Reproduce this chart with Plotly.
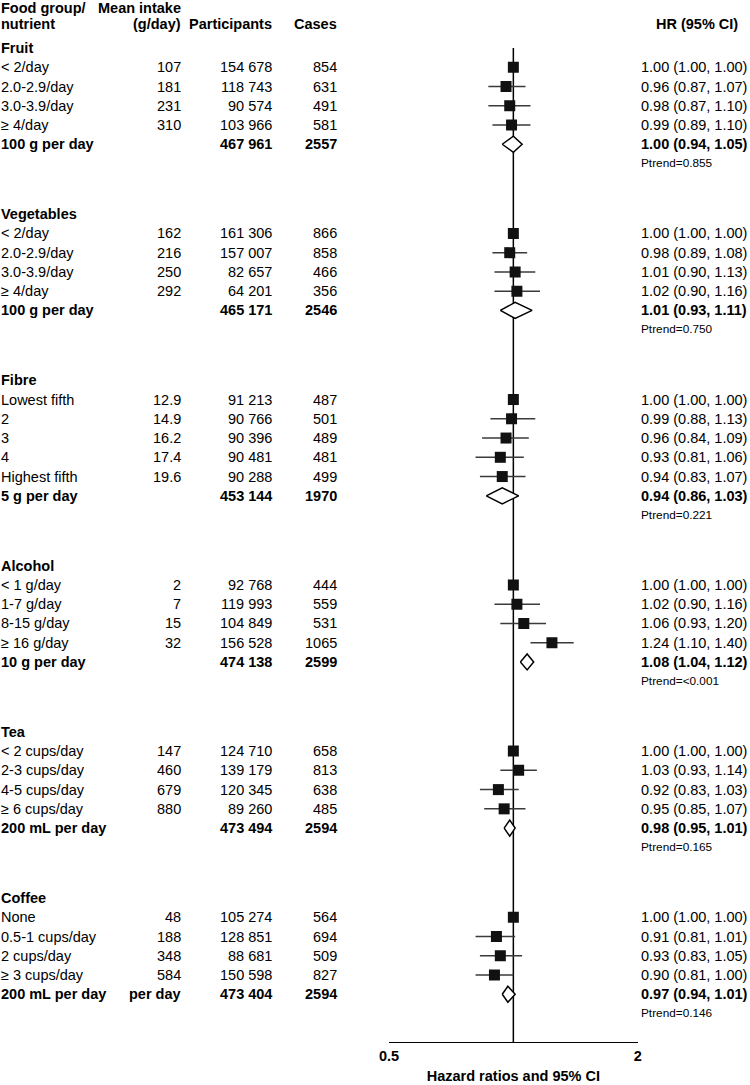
import plotly.graph_objects as go

# ---------------- data ----------------
group_names = ["Fruit", "Vegetables", "Fibre", "Alcohol", "Tea", "Coffee"]

fruit_labels = ["< 2/day", "2.0-2.9/day", "3.0-3.9/day", "≥ 4/day"]
fruit_intake = ["107", "181", "231", "310"]
fruit_participants = ["154 678", "118 743", "90 574", "103 966"]
fruit_cases = ["854", "631", "491", "581"]
fruit_hr = [1.00, 0.96, 0.98, 0.99]
fruit_lo = [1.00, 0.87, 0.87, 0.89]
fruit_hi = [1.00, 1.07, 1.10, 1.10]

veg_labels = ["< 2/day", "2.0-2.9/day", "3.0-3.9/day", "≥ 4/day"]
veg_intake = ["162", "216", "250", "292"]
veg_participants = ["161 306", "157 007", "82 657", "64 201"]
veg_cases = ["866", "858", "466", "356"]
veg_hr = [1.00, 0.98, 1.01, 1.02]
veg_lo = [1.00, 0.89, 0.90, 0.90]
veg_hi = [1.00, 1.08, 1.13, 1.16]

fibre_labels = ["Lowest fifth", "2", "3", "4", "Highest fifth"]
fibre_intake = ["12.9", "14.9", "16.2", "17.4", "19.6"]
fibre_participants = ["91 213", "90 766", "90 396", "90 481", "90 288"]
fibre_cases = ["487", "501", "489", "481", "499"]
fibre_hr = [1.00, 0.99, 0.96, 0.93, 0.94]
fibre_lo = [1.00, 0.88, 0.84, 0.81, 0.83]
fibre_hi = [1.00, 1.13, 1.09, 1.06, 1.07]

alcohol_labels = ["< 1 g/day", "1-7 g/day", "8-15 g/day", "≥ 16 g/day"]
alcohol_intake = ["2", "7", "15", "32"]
alcohol_participants = ["92 768", "119 993", "104 849", "156 528"]
alcohol_cases = ["444", "559", "531", "1065"]
alcohol_hr = [1.00, 1.02, 1.06, 1.24]
alcohol_lo = [1.00, 0.90, 0.93, 1.10]
alcohol_hi = [1.00, 1.16, 1.20, 1.40]

tea_labels = ["< 2 cups/day", "2-3 cups/day", "4-5 cups/day", "≥ 6 cups/day"]
tea_intake = ["147", "460", "679", "880"]
tea_participants = ["124 710", "139 179", "120 345", "89 260"]
tea_cases = ["658", "813", "638", "485"]
tea_hr = [1.00, 1.03, 0.92, 0.95]
tea_lo = [1.00, 0.93, 0.83, 0.85]
tea_hi = [1.00, 1.14, 1.03, 1.07]

coffee_labels = ["None", "0.5-1 cups/day", "2 cups/day", "≥ 3 cups/day"]
coffee_intake = ["48", "188", "348", "584"]
coffee_participants = ["105 274", "128 851", "88 681", "150 598"]
coffee_cases = ["564", "694", "509", "827"]
coffee_hr = [1.00, 0.91, 0.93, 0.90]
coffee_lo = [1.00, 0.81, 0.83, 0.81]
coffee_hi = [1.00, 1.01, 1.05, 1.00]

summary_labels = ["100 g per day", "100 g per day", "5 g per day", "10 g per day",
                  "200 mL per day", "200 mL per day"]
summary_intake = ["", "", "", "", "", "per day"]
summary_participants = ["467 961", "465 171", "453 144", "474 138", "473 494", "473 404"]
summary_cases = ["2557", "2546", "1970", "2599", "2594", "2594"]
summary_hr = [1.00, 1.01, 0.94, 1.08, 0.98, 0.97]
summary_lo = [0.94, 0.93, 0.86, 1.04, 0.95, 0.94]
summary_hi = [1.05, 1.11, 1.03, 1.12, 1.01, 1.01]
ptrend = ["0.855", "0.750", "0.221", "<0.001", "0.165", "0.146"]

x_ticks = [0.5, 2]
x_tick_labels = ["0.5", "2"]
x_title = "Hazard ratios and 95% CI"

groups = [
    (fruit_labels, fruit_intake, fruit_participants, fruit_cases, fruit_hr, fruit_lo, fruit_hi),
    (veg_labels, veg_intake, veg_participants, veg_cases, veg_hr, veg_lo, veg_hi),
    (fibre_labels, fibre_intake, fibre_participants, fibre_cases, fibre_hr, fibre_lo, fibre_hi),
    (alcohol_labels, alcohol_intake, alcohol_participants, alcohol_cases, alcohol_hr, alcohol_lo, alcohol_hi),
    (tea_labels, tea_intake, tea_participants, tea_cases, tea_hr, tea_lo, tea_hi),
    (coffee_labels, coffee_intake, coffee_participants, coffee_cases, coffee_hr, coffee_lo, coffee_hi),
]

# ---------------- layout constants ----------------
W, H = 750, 1085
AXIS_Y = 1042          # pixel row of the x axis line
ROW = 19.25
TOP = 48
GAP = 50.65
FONT = "Liberation Sans, Arial, Helvetica, sans-serif"
FS = 14.5
FS_SMALL = 11.8
TXT_DY = 0.0

X_LABEL = 1
X_INTAKE = 181
X_PART = 272
X_CASES = 337
X_HR = 641

def px(x):
    return x / W

annotations = []

def txt(x, y, s, anchor="left", bold=False, size=FS):
    annotations.append(dict(
        x=px(x), y=y + TXT_DY, xref="paper", yref="y",
        text=("<b>%s</b>" % s) if bold else s,
        showarrow=False, xanchor=anchor, yanchor="middle",
        font=dict(family=FONT, size=size, color="black"),
        borderpad=0, borderwidth=0,
    ))

# headers
txt(X_LABEL, 7.5, "Food group/", bold=True)
txt(X_LABEL, 23.5, "nutrient", bold=True)
txt(X_INTAKE, 7.5, "Mean intake", "right", bold=True)
txt(X_INTAKE, 23.5, "(g/day)", "right", bold=True)
txt(X_PART, 23.5, "Participants", "right", bold=True)
txt(X_CASES, 23.5, "Cases", "right", bold=True)
txt(697, 23.5, "HR (95% CI)", "center", bold=True)

sq_x, sq_y = [], []
ci_x, ci_y = [], []
dm_x, dm_y = [], []

y0 = TOP
for gi, (labels, intake, part, cases, hr, lo, hi) in enumerate(groups):
    txt(X_LABEL, y0, group_names[gi], bold=True)
    n = len(labels)
    for i in range(n):
        y = y0 + ROW * (i + 1)
        txt(X_LABEL, y, labels[i])
        txt(X_INTAKE, y, intake[i], "right")
        txt(X_PART, y, part[i], "right")
        txt(X_CASES, y, cases[i], "right")
        txt(X_HR, y, "%.2f (%.2f, %.2f)" % (hr[i], lo[i], hi[i]))
        sq_x.append(hr[i]); sq_y.append(y)
        if hi[i] > lo[i]:
            ci_x += [lo[i], hi[i], None]; ci_y += [y, y, None]
    ys = y0 + ROW * (n + 1)
    txt(X_LABEL, ys, summary_labels[gi], bold=True)
    if summary_intake[gi]:
        txt(X_INTAKE, ys, summary_intake[gi], "right", bold=True)
    txt(X_PART, ys, summary_participants[gi], "right", bold=True)
    txt(X_CASES, ys, summary_cases[gi], "right", bold=True)
    txt(X_HR, ys, "%.2f (%.2f, %.2f)" % (summary_hr[gi], summary_lo[gi], summary_hi[gi]), bold=True)
    dm_x += [summary_lo[gi], summary_hr[gi], summary_hi[gi], summary_hr[gi], summary_lo[gi], None]
    dm_y += [ys, ys - 8, ys, ys + 8, ys, None]
    yp = y0 + ROW * (n + 2)
    txt(X_HR, yp - 0.5, "Ptrend=" + ptrend[gi], size=FS_SMALL)
    y0 = yp + GAP

fig = go.Figure()
fig.add_trace(go.Scatter(x=ci_x, y=ci_y, mode="lines",
                         line=dict(color="#3a3a3a", width=1.5),
                         hoverinfo="skip", showlegend=False))
fig.add_trace(go.Scatter(x=dm_x, y=dm_y, mode="lines", fill="toself",
                         fillcolor="white", line=dict(color="black", width=1.5),
                         hoverinfo="skip", showlegend=False))
fig.add_trace(go.Scatter(x=sq_x, y=sq_y, mode="markers",
                         marker=dict(symbol="square", size=11, color="#111111",
                                     line=dict(width=0)),
                         showlegend=False))

fig.add_shape(type="line", xref="x", yref="y", x0=1, x1=1, y0=TOP, y1=AXIS_Y,
              line=dict(color="black", width=1.5), layer="below")

fig.update_layout(
    width=W, height=H, autosize=False, showlegend=False,
    margin=dict(l=0, r=0, t=0, b=0, pad=0, autoexpand=False),
    paper_bgcolor="white", plot_bgcolor="white",
    annotations=annotations,
    xaxis=dict(type="log", domain=[389 / W, 637.7 / W],
               range=[-0.30103, 0.30103], automargin=False,
               tickvals=x_ticks, ticktext=x_tick_labels,
               tickfont=dict(family=FONT, size=FS, color="black", weight="bold"),
               ticks="inside", ticklen=7, tickwidth=1.3, tickcolor="black",
               showline=True, linecolor="black", linewidth=1.3,
               showgrid=False, zeroline=False,
               title=dict(text=x_title, standoff=8,
                          font=dict(family=FONT, size=FS, color="black", weight="bold"))),
    yaxis=dict(domain=[(H - AXIS_Y) / H, 1], range=[AXIS_Y, 0], automargin=False,
               visible=False, showgrid=False, zeroline=False),
)

fig.write_html("out.html", config={"displayModeBar": False},
               post_script="document.body.style.margin='0';document.body.style.overflow='hidden';")
